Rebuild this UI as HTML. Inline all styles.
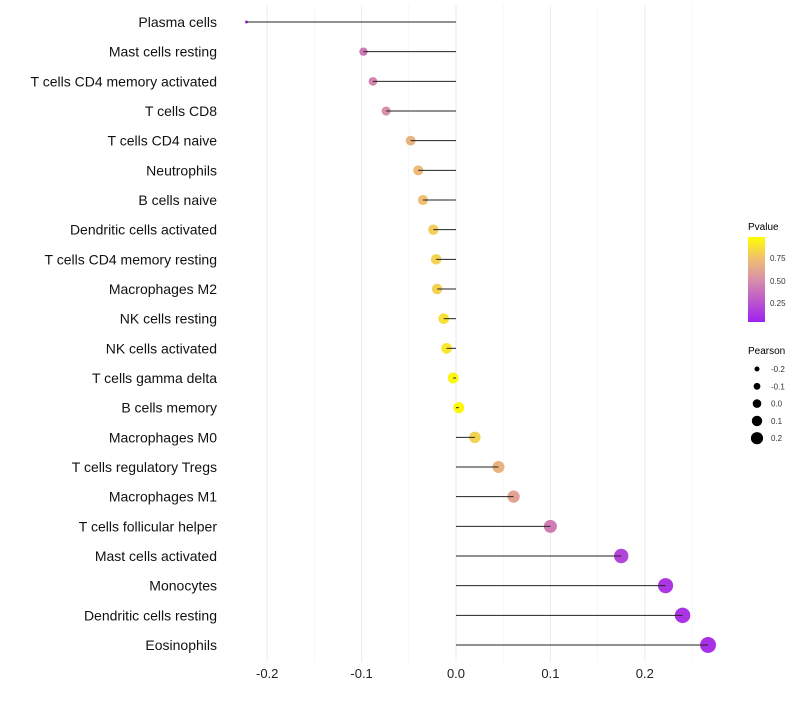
<!DOCTYPE html>
<html><head><meta charset="utf-8"><style>
body{margin:0;background:#fff;font-family:"Liberation Sans",sans-serif}
svg text{font-family:"Liberation Sans",sans-serif}
</style></head><body>
<svg id="chart" width="800" height="700" xmlns="http://www.w3.org/2000/svg">
<defs><linearGradient id="pg" x1="0" y1="1" x2="0" y2="0">
<stop offset="0" stop-color="#a020f0"/><stop offset="0.5" stop-color="#d890a8"/><stop offset="0.75" stop-color="#f0c070"/><stop offset="1" stop-color="#ffff00"/></linearGradient></defs>
<g id="grid"></g><g id="dots"></g><g id="stems"></g><g id="ylabels"></g><g id="xlabels"></g>
<g>
<text x="748" y="230" font-size="10" fill="#000">Pvalue</text>
<rect x="748" y="237" width="17" height="85" fill="url(#pg)"/>
<text x="770" y="261" font-size="8" fill="#333">0.75</text>
<text x="770" y="284" font-size="8" fill="#333">0.50</text>
<text x="770" y="306" font-size="8" fill="#333">0.25</text>
</g>
<g id="sizeleg">
<text x="748" y="354" font-size="10" fill="#000">Pearson</text>
</g>
</svg>
<script>
const categories=["Plasma cells","Mast cells resting","T cells CD4 memory activated","T cells CD8","T cells CD4 naive","Neutrophils","B cells naive","Dendritic cells activated","T cells CD4 memory resting","Macrophages M2","NK cells resting","NK cells activated","T cells gamma delta","B cells memory","Macrophages M0","T cells regulatory  Tregs","Macrophages M1","T cells follicular helper","Mast cells activated","Monocytes","Dendritic cells resting","Eosinophils"];
const pearson=[-0.222,-0.098,-0.088,-0.074,-0.048,-0.040,-0.035,-0.024,-0.021,-0.020,-0.013,-0.010,-0.003,0.003,0.020,0.045,0.061,0.100,0.175,0.222,0.240,0.267];
const pvalues=[0.05,0.40,0.45,0.50,0.68,0.72,0.74,0.80,0.82,0.82,0.88,0.90,0.97,0.97,0.82,0.68,0.60,0.42,0.17,0.10,0.09,0.07];
const xTicks=[-0.2,-0.1,0.0,0.1,0.2];
const minorTicks=[-0.15,-0.05,0.05,0.15,0.25];
const sizeLegend=[-0.2,-0.1,0.0,0.1,0.2];
const NS="http://www.w3.org/2000/svg";
const x=v=>456+v*944;
const y=i=>22+i*(623/21);
const r=v=>Math.sqrt(Math.max(2.25,2.25+125*(v+0.222)));
function col(p){
 const stops=[[0,[160,32,240]],[0.5,[216,144,168]],[0.75,[240,192,112]],[1,[255,255,0]]];
 for(let k=1;k<stops.length;k++){if(p<=stops[k][0]){const a=stops[k-1],b=stops[k];const t=(p-a[0])/(b[0]-a[0]);return "rgb("+a[1].map((c,j)=>Math.round(c+(b[1][j]-c)*t)).join(",")+")";}}
 return "rgb(255,255,0)";}
function mk(tag,attrs,parent){const e=document.createElementNS(NS,tag);for(const k in attrs)e.setAttribute(k,attrs[k]);document.getElementById(parent).appendChild(e);return e;}
minorTicks.forEach(t=>{const l=mk("line",{x1:x(t),x2:x(t),y1:5,y2:662,stroke:"#f2f2f2","stroke-width":0.6},"grid");

});
xTicks.forEach(t=>{const l=mk("line",{x1:x(t),x2:x(t),y1:5,y2:662,stroke:"#ebebeb","stroke-width":1},"grid");


const tx=mk("text",{x:x(t),y:678,"font-size":13,"text-anchor":"middle",fill:"#222"},"xlabels");
tx.textContent=t.toFixed(1);

});
categories.forEach((c,i)=>{
 const d=mk("circle",{cx:x(pearson[i]),cy:y(i),r:r(pearson[i]),fill:col(pvalues[i])},"dots");
 
 
 const l=mk("line",{x1:x(0),x2:x(pearson[i]),y1:y(i),y2:y(i),stroke:"#222","stroke-width":1},"stems");
 
 
 const t=mk("text",{x:217,y:y(i)+5,"font-size":14,"text-anchor":"end",fill:"#111"},"ylabels");
 t.textContent=c;
 
 
});
sizeLegend.forEach((v,i)=>{
 const cy=369+i*17.3;
 const c=mk("circle",{cx:757,cy:cy,r:2.5+(v+0.2)*9,fill:"#000"},"sizeleg");
 
 
 const t=mk("text",{x:771,y:cy+3,"font-size":8,fill:"#333"},"sizeleg");
 t.textContent=v.toFixed(1);
 
 
});
</script>
</body></html>
